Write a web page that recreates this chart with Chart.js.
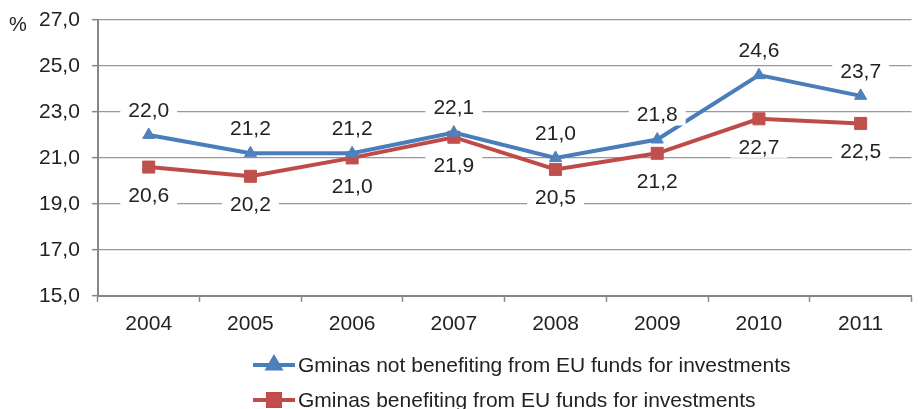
<!DOCTYPE html>
<html>
<head>
<meta charset="utf-8">
<script src="https://cdn.jsdelivr.net/npm/chart.js@4.4.0/dist/chart.umd.min.js"></script>
<style>
  html, body { margin: 0; padding: 0; background: #fff; }
  #wrap { width: 921px; height: 409px; }
</style>
</head>
<body>
<div id="wrap"><canvas id="chart" width="921" height="409"></canvas></div>
<script>
const years = ['2004', '2005', '2006', '2007', '2008', '2009', '2010', '2011']
const notBenefiting = [22.0, 21.2, 21.2, 22.1, 21.0, 21.8, 24.6, 23.7]
const benefiting = [20.6, 20.2, 21.0, 21.9, 20.5, 21.2, 22.7, 22.5]
const yTicks = [15, 17, 19, 21, 23, 25, 27]
const seriesNames = [
  'Gminas not benefiting from EU funds for investments',
  'Gminas benefiting from EU funds for investments'
]

const FONT = '"Liberation Sans", Arial, sans-serif'
const TEXT = '#222'
const fmt = (v) => v.toFixed(1).replace('.', ',')

Chart.defaults.font.family = FONT
Chart.defaults.font.size = 21
Chart.defaults.color = TEXT

// value labels on white boxes, blue above the point, red below
const valueLabels = {
  id: 'valueLabels',
  afterDatasetsDraw(chart) {
    const ctx = chart.ctx
    ctx.save()
    ctx.font = '21px ' + FONT
    ctx.textAlign = 'center'
    ctx.textBaseline = 'middle'
    chart.data.datasets.forEach((ds, i) => {
      const dy = i === 0 ? -25 : 28
      chart.getDatasetMeta(i).data.forEach((pt, j) => {
        const text = fmt(ds.data[j])
        const w = ctx.measureText(text).width
        ctx.fillStyle = '#fff'
        ctx.fillRect(pt.x - w / 2 - 8, pt.y + dy - 11, w + 16, 22)
        ctx.fillStyle = TEXT
        ctx.fillText(text, pt.x, pt.y + dy + 1)
      })
    })
    ctx.restore()
  }
}

// legend rows under the chart + the % unit mark
const sideText = {
  id: 'sideText',
  afterDraw(chart) {
    const ctx = chart.ctx
    ctx.save()
    ctx.font = '20px ' + FONT
    ctx.fillStyle = TEXT
    ctx.textAlign = 'center'
    ctx.textBaseline = 'middle'
    ctx.fillText('%', 18, 25)

    const rowsY = [365, 400]
    chart.data.datasets.forEach((ds, i) => {
      const y = rowsY[i]
      ctx.strokeStyle = ds.borderColor
      ctx.lineWidth = 4
      ctx.beginPath()
      ctx.moveTo(253, y)
      ctx.lineTo(295, y)
      ctx.stroke()
      Chart.helpers.drawPoint(ctx, {
        pointStyle: ds.pointStyle,
        radius: ds.pointRadius,
        borderWidth: 1
      }, 274, y)
      ctx.fillStyle = ds.pointBackgroundColor
      ctx.strokeStyle = ds.pointBorderColor
      ctx.fill()
      ctx.fillStyle = TEXT
      ctx.font = '21px ' + FONT
      ctx.textAlign = 'left'
      ctx.fillText(ds.label, 298, y + 1)
    })
    ctx.restore()
  }
}

new Chart(document.getElementById('chart'), {
  type: 'line',
  data: {
    labels: years,
    datasets: [
      {
        label: seriesNames[0],
        data: notBenefiting,
        borderColor: '#4A7EBB',
        borderWidth: 4,
        pointStyle: 'triangle',
        pointRadius: 7,
        pointBackgroundColor: '#4F81BD',
        pointBorderColor: '#4F81BD',
        pointBorderWidth: 1,
        tension: 0
      },
      {
        label: seriesNames[1],
        data: benefiting,
        borderColor: '#BE4B48',
        borderWidth: 4,
        pointStyle: 'rect',
        pointRadius: 8.5,
        pointBackgroundColor: '#C0504D',
        pointBorderColor: '#C0504D',
        pointBorderWidth: 1,
        tension: 0
      }
    ]
  },
  options: {
    responsive: false,
    animation: false,
    layout: { padding: { left: 27, top: 20, right: 4, bottom: 62 } },
    plugins: {
      legend: { display: false },
      tooltip: { enabled: false }
    },
    scales: {
      x: {
        offset: true,
        grid: {
          offset: true,
          drawOnChartArea: false,
          tickLength: 6,
          tickColor: '#888',
          tickWidth: 1.5
        },
        border: { color: '#868686', width: 2 },
        ticks: { color: TEXT, font: { size: 21 }, padding: 10, maxRotation: 0 }
      },
      y: {
        min: 15,
        max: 27,
        afterBuildTicks: (axis) => {
          axis.ticks = yTicks.map((v) => ({ value: v }))
        },
        // tick labels may overhang the plot edges
        afterFit: (axis) => {
          axis.paddingTop = 0
          axis.paddingBottom = 0
        },
        ticks: { color: TEXT, font: { size: 21 }, padding: 12, callback: (v) => fmt(v) },
        grid: { color: '#999', lineWidth: 1.3, tickLength: 6, tickColor: '#888', tickWidth: 1.5 },
        border: { color: '#868686', width: 2 }
      }
    }
  },
  plugins: [valueLabels, sideText]
})
</script>
</body>
</html>
